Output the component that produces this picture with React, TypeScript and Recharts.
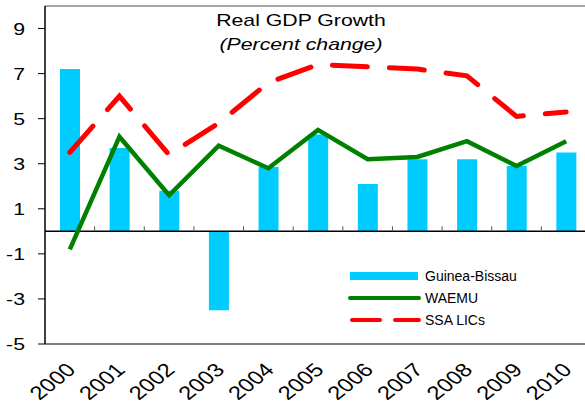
import {
  ComposedChart, Bar, Line, XAxis, YAxis, ReferenceLine, Legend
} from 'recharts'

const years = ['2000', '2001', '2002', '2003', '2004', '2005', '2006', '2007', '2008', '2009', '2010']
const guineaBissau = [7.2, 3.7, 1.8, -3.5, 2.85, 4.3, 2.1, 3.2, 3.2, 2.9, 3.5]
const waemu = [-0.8, 4.2, 1.6, 3.8, 2.8, 4.5, 3.2, 3.3, 4.0, 2.9, 4.0]
const ssaLics = [3.5, 6.0, 3.4, 4.8, 6.6, 7.4, 7.3, 7.2, 6.9, 5.1, 5.3]
const yTicks = [-5, -3, -1, 1, 3, 5, 7, 9]

const data = years.map((year, i) => ({
  year,
  gb: guineaBissau[i],
  waemu: waemu[i],
  ssa: ssaLics[i],
}))

const FONT = '"Liberation Sans", Arial, sans-serif'
const STRETCH = 1.25

function YTick({ x, y, payload }: any) {
  return (
    <text
      transform={`translate(${x},${y}) scale(${STRETCH},1)`}
      textAnchor="end"
      dy={6}
      fontSize={17}
      fontFamily={FONT}
      fill="#000"
    >
      {payload.value}
    </text>
  )
}

function XTick({ x, y, payload }: any) {
  return (
    <text
      transform={`translate(${x + 7},${y + 19}) scale(${STRETCH},1) rotate(-45)`}
      textAnchor="end"
      fontSize={19}
      fontFamily={FONT}
      fill="#000"
    >
      {payload.value}
    </text>
  )
}

// zero line with small tick marks between the categories
function ZeroLine({ x1, y1, x2 }: any) {
  const step = (x2 - x1) / years.length
  return (
    <g>
      <line x1={x1} y1={y1} x2={x2} y2={y1} stroke="#000" strokeWidth={1.5} />
      {years.slice(1).map((_, i) => (
        <line
          key={i}
          x1={x1 + step * (i + 1)}
          x2={x1 + step * (i + 1)}
          y1={y1 - 5}
          y2={y1}
          stroke="#555"
          strokeWidth={1}
        />
      ))}
    </g>
  )
}

function LegendBox() {
  const rows = [
    { label: 'Guinea-Bissau', kind: 'bar' },
    { label: 'WAEMU', kind: 'line' },
    { label: 'SSA LICs', kind: 'dash' },
  ]
  return (
    <svg width={200} height={70} style={{ position: 'absolute', left: 0, top: 0, overflow: 'visible' }}>
      {rows.map((r, i) => {
        const cy = 8 + i * 22
        return (
          <g key={r.label}>
            {r.kind === 'bar' && <rect x={0} y={cy - 4} width={68} height={8} fill="#00CCFF" />}
            {r.kind === 'line' && (
              <line x1={0} x2={69} y1={cy} y2={cy} stroke="#008000" strokeWidth={4} strokeLinecap="round" />
            )}
            {r.kind === 'dash' && (
              <line x1={2} x2={69} y1={cy} y2={cy} stroke="#FF0000" strokeWidth={4}
                strokeDasharray="28 15" strokeLinecap="round" />
            )}
            <text x={75} y={cy + 5} fontSize={14} fontFamily={FONT} fill="#000">
              {r.label}
            </text>
          </g>
        )
      })}
    </svg>
  )
}

export default function App() {
  return (
    <div style={{ position: 'fixed', left: 0, top: 0, width: 585, height: 409, overflow: 'hidden', background: '#fff' }}>
      <ComposedChart
        width={600}
        height={409}
        data={data}
        margin={{ top: 6, right: 9, left: 0, bottom: 0 }}
        barSize={20}
      >
        <XAxis
          dataKey="year"
          height={65}
          axisLine={{ stroke: '#555', strokeWidth: 1.5 }}
          tickLine={false}
          tick={<XTick />}
          interval={0}
        />
        <YAxis
          width={45}
          domain={[-5, 10]}
          ticks={yTicks}
          interval={0}
          axisLine={{ stroke: '#000', strokeWidth: 1.5 }}
          tickLine={{ stroke: '#000' }}
          tickSize={7}
          tickMargin={13}
          tick={<YTick />}
        />
        <ReferenceLine y={10} stroke="#888" strokeWidth={1.5} />
        <Bar dataKey="gb" name="Guinea-Bissau" fill="#00CCFF" isAnimationActive={false} />
        <ReferenceLine y={0} shape={<ZeroLine />} />
        <Line
          type="linear"
          dataKey="waemu"
          name="WAEMU"
          stroke="#008000"
          strokeWidth={4.5}
          strokeLinejoin="miter"
          dot={false}
          activeDot={false}
          isAnimationActive={false}
        />
        <Line
          type="linear"
          dataKey="ssa"
          name="SSA LICs"
          stroke="#FF0000"
          strokeWidth={5}
          strokeDasharray="35 22"
          strokeLinecap="round"
          dot={false}
          activeDot={false}
          isAnimationActive={false}
        />
        <Legend
          content={<LegendBox />}
          wrapperStyle={{ position: 'absolute', left: 350, top: 268, width: 0, height: 0, overflow: 'visible' }}
        />
      </ComposedChart>
      <div
        style={{
          position: 'absolute',
          left: 301,
          top: 9,
          transform: `translateX(-50%) scaleX(${STRETCH})`,
          textAlign: 'center',
          fontFamily: FONT,
          color: '#000',
          whiteSpace: 'nowrap',
        }}
      >
        <div style={{ fontSize: 17, lineHeight: '24px' }}>Real GDP Growth</div>
        <div style={{ fontSize: 17, lineHeight: '24px', fontStyle: 'italic' }}>(Percent change)</div>
      </div>
    </div>
  )
}
